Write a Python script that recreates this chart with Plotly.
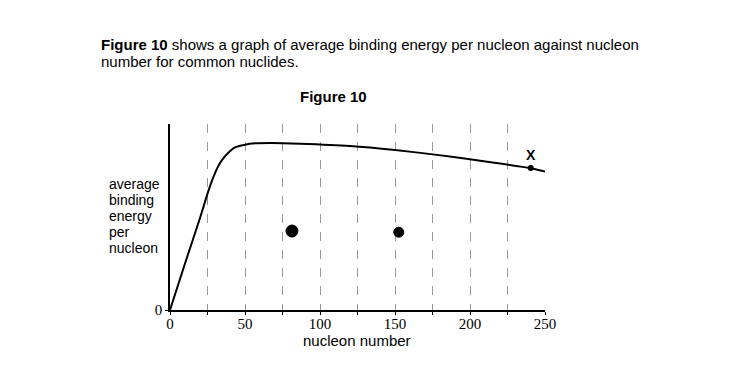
import plotly.graph_objects as go

# Curve: nucleon number vs average binding energy per nucleon (arbitrary units ~MeV)
nucleon_number = [0, 10, 20, 25.5, 28.9, 32.2, 35.5, 38.9, 43.3, 50, 56.7, 67.8, 86.7, 120, 150, 175.3, 200, 240, 250]
binding_energy = [0, 2.45, 4.85, 6.25, 7.0, 7.59, 7.99, 8.29, 8.57, 8.71, 8.78, 8.80, 8.76, 8.64, 8.43, 8.20, 7.94, 7.48, 7.30]

point_x = [240.5]
point_y = [7.48]
point_label = ["X"]

blot_x = [81.3, 152.5]
blot_y = [4.16, 4.1]

x_tick_vals = [0, 50, 100, 150, 200, 250]
x_tick_text = ["0", "50", "100", "150", "200", "250"]

y_label_lines = ["average", "binding", "energy", "per", "nucleon"]
intro_lines = ["<b>Figure 10</b> shows a graph of average binding energy per nucleon against nucleon",
               "number for common nuclides."]

fig = go.Figure()

fig.add_trace(go.Scatter(
    x=nucleon_number, y=binding_energy, mode="lines",
    line=dict(color="black", width=2, shape="spline", smoothing=0.5),
    showlegend=False, hoverinfo="skip"))

fig.add_trace(go.Scatter(
    x=point_x, y=point_y, mode="markers+text",
    marker=dict(color="black", size=6),
    text=["<b>" + t + "</b>" for t in point_label], textposition="top center",
    textfont=dict(family="Liberation Sans, Arial", size=14, color="black"),
    showlegend=False, hoverinfo="skip", cliponaxis=False))

fig.add_trace(go.Scatter(
    x=blot_x, y=blot_y, mode="markers",
    marker=dict(color="black", size=[12, 10], symbol="circle", opacity=1,
                line=dict(color="black", width=1)),
    showlegend=False, hoverinfo="skip"))

OFF = 8  # page body margin
W, H = 735 - 2 * OFF, 385 - 2 * OFF
L, T = 170 - OFF, 124 - OFF
R = W - (545 - OFF)
B = H - (310 - OFF)
pw, ph = W - L - R, H - T - B

def px(xp):
    return (xp - OFF - L) / pw

def py(yp):
    return (H - B - (yp - OFF)) / ph

sans = "Liberation Sans, Arial"
annotations = []
for i, line in enumerate(intro_lines):
    annotations.append(dict(xref="paper", yref="paper", x=px(99), y=py(45 + 16 * i),
                            xanchor="left", yanchor="middle", showarrow=False, text=line,
                            font=dict(family=sans, size=15, color="black")))
annotations.append(dict(xref="paper", yref="paper", x=px(333), y=py(97), xanchor="center",
                        yanchor="middle", showarrow=False, text="<b>Figure 10</b>",
                        font=dict(family=sans, size=15, color="black")))
for i, line in enumerate(y_label_lines):
    annotations.append(dict(xref="paper", yref="paper", x=px(107), y=py(184 + 15.9 * i),
                            xanchor="left", yanchor="middle", showarrow=False, text=line,
                            font=dict(family=sans, size=14, color="black")))
annotations.append(dict(xref="paper", yref="paper", x=px(357), y=py(340), xanchor="center",
                        yanchor="middle", showarrow=False, text="nucleon number",
                        font=dict(family=sans, size=15, color="black")))

fig.update_layout(
    width=W, height=H,
    margin=dict(l=L, r=R, t=T, b=B),
    paper_bgcolor="white", plot_bgcolor="white",
    font=dict(family=sans, size=14, color="black"),
    xaxis=dict(
        range=[0, 250], showline=True, linecolor="black", linewidth=1.5,
        tickvals=x_tick_vals, ticktext=x_tick_text,
        ticks="outside", ticklen=3, tickcolor="black", ticklabelstandoff=-4,
        tickfont=dict(family="Liberation Serif, Times New Roman", size=15, color="black"),
        showgrid=True, gridcolor="#999999", griddash="dash", gridwidth=1,
        minor=dict(dtick=25, tick0=0, showgrid=True, gridcolor="#999999",
                   griddash="dash", gridwidth=1, ticks="outside", ticklen=3, tickcolor="black"),
        zeroline=False,
    ),
    yaxis=dict(
        range=[0, 9.8], showline=True, linecolor="black", linewidth=1.5,
        tickvals=[0], ticktext=["0"], ticks="outside", ticklen=3, tickcolor="black",
        tickfont=dict(family="Liberation Serif, Times New Roman", size=15, color="black"),
        showgrid=False, zeroline=False,
    ),
    annotations=annotations,
)

fig.write_html("out.html")
